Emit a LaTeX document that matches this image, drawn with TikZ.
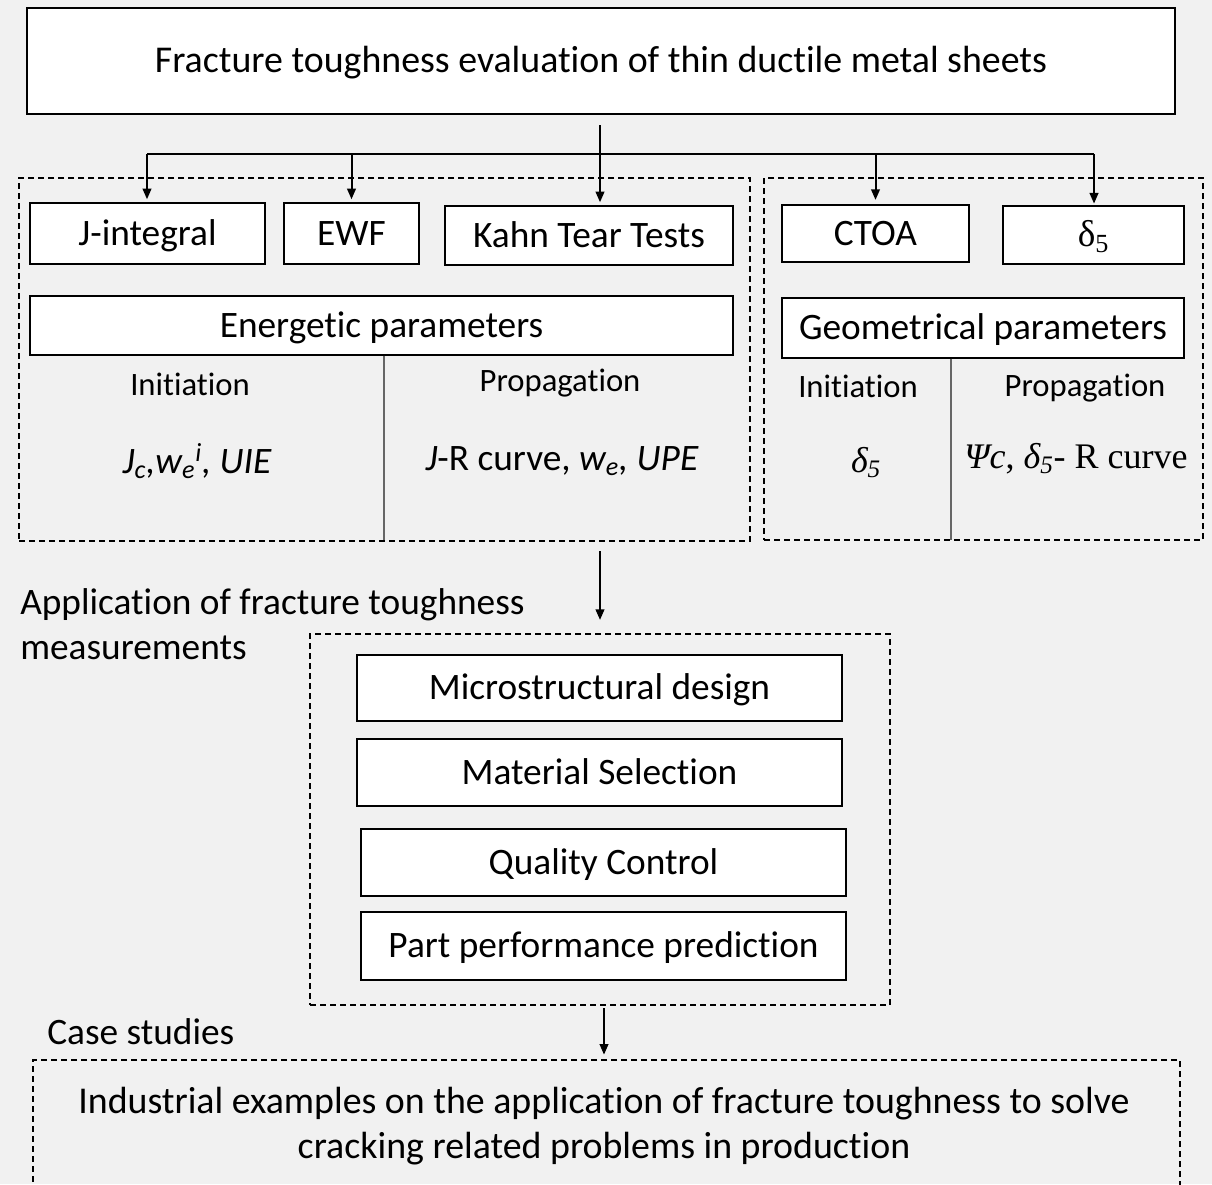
\documentclass[tikz,border=0pt]{standalone}
\usepackage{fontspec}
\setmainfont{Carlito}[Ligatures=NoCommon]
\newfontfamily\tms{Liberation Serif}
\usetikzlibrary{arrows.meta}
\definecolor{bgcol}{HTML}{F1F1F1}
\newcommand\pbox[7][]{\node[#1,minimum width={(#5-#3)*0.75pt},minimum height={(#6-#4)*0.75pt}] (#2) at ({(#3+#5)/2},{(#4+#6)/2}) {#7};}
\begin{document}
\begin{tikzpicture}[x=0.75pt,y=-0.75pt,
  box/.style={draw=black,fill=white,line width=1.6pt,inner sep=0pt,text height=18.6pt,text depth=1pt,font=\fontsize{28}{34}\selectfont},
  dbox/.style={draw=black,dashed,dash pattern=on 4.5pt off 3pt,line width=1.1pt,inner sep=0pt},
  conn/.style={line width=1.5pt,draw=black},
  tip/.style={-{Triangle[length=8pt,width=6.5pt]}},
  lbl/.style={inner sep=0pt,font=\fontsize{28}{34}\selectfont},
  sublbl/.style={inner sep=0pt,font=\fontsize{24.5}{30}\selectfont},
  divider/.style={draw=gray!80!black,line width=0.8pt}]
\fill[bgcol] (0,0) rectangle (1212,1184);
\useasboundingbox (0,0) rectangle (1212,1184);

% title
\pbox[box,line width=1.9pt,font=\fontsize{28.4}{34}\selectfont]{title}{27}{8}{1175}{114}{Fracture toughness evaluation of thin ductile metal sheets}

% dashed groups
\pbox[dbox]{ldash}{19}{178}{750}{541}{}
\pbox[dbox]{rdash}{764}{178}{1203}{540}{}

% method boxes
\pbox[box]{jint}{30}{203}{265}{264}{J-integral}
\pbox[box]{ewf}{284}{203}{419}{264}{EWF}
\pbox[box]{kahn}{445}{206}{733}{265}{Kahn Tear Tests}
\pbox[box]{ctoa}{782}{205}{969}{262}{CTOA}
\pbox[box]{dfive}{1003}{206}{1184}{264}{\tms δ\textsubscript{5}}

% parameter boxes
\pbox[box,line width=1.1pt]{energ}{30}{296}{733}{355}{Energetic parameters}
\pbox[box,line width=1.1pt]{geom}{782}{298}{1184}{358}{Geometrical parameters}

% dividers
\coordinate (ldivb) at (384,540);
\coordinate (rdivb) at (951,540);
\draw[divider] (energ.south -| ldivb) -- (ldivb);
\draw[divider] (geom.south -| rdivb) -- (rdivb);

% sub labels
\node[sublbl] (linit) at (190,384) {Initiation};
\node[sublbl] (lprop) at (560,383) {Propagation};
\node[sublbl] (rinit) at (858,386) {Initiation};
\node[sublbl] (rprop) at (1085,388) {Propagation};
\node[sublbl,font=\fontsize{28}{30}\selectfont\itshape] (lival) at (197,461) {J\textsubscript{c},w\textsubscript{e}\textsuperscript{i}, UIE};
\node[sublbl,font=\fontsize{28}{30}\selectfont] (lpval) at (562,461) {\textit{J}-R curve, \textit{w\textsubscript{e}, UPE}};
\node[sublbl,font=\fontsize{27}{30}\selectfont\tms] (rival) at (866,463) {\textit{δ\textsubscript{5}}};
\node[sublbl,font=\fontsize{27}{30}\selectfont\tms] (rpval) at (1076,459) {\textit{Ψc}, \textit{δ\textsubscript{5}}- R curve};

% top connectors
\coordinate (bar) at (600,154);
\coordinate (barL) at (147,154);
\coordinate (barR) at (1094,154);
\draw[conn] (barL) -- (barR);
\draw[conn,tip,shorten <=7.5pt,shorten >=2pt] (title.south -| bar) -- (kahn.north -| bar);
\draw[conn,tip,shorten >=2pt] (barL) -- (jint.north -| barL);
\draw[conn,tip,shorten >=2pt] (bar -| ewf.north) -- (ewf.north);
\draw[conn,tip,shorten >=3pt] (bar -| ctoa.north) -- (ctoa.north);
\draw[conn,tip,shorten >=1pt] (barR) -- (dfive.north -| barR);

% application section
\node[lbl,anchor=base west] (app1) at (20,614) {Application of fracture toughness};
\node[lbl,anchor=base west] (app2) at (20,659) {measurements};
\pbox[dbox]{mid}{310}{634}{890}{1005}{}
\pbox[box,line width=1.3pt]{micro}{357}{655}{842}{721}{Microstructural design}
\pbox[box,line width=1.3pt]{matsel}{357}{739}{842}{806}{Material Selection}
\pbox[box,line width=1.3pt]{qual}{361}{829}{846}{896}{Quality Control}
\pbox[box,line width=1.3pt]{part}{361}{912}{846}{980}{Part performance prediction}
\draw[conn,tip,shorten <=7pt,shorten >=10pt] (ldash.south -| mid.north) -- (mid.north);

% case studies
\node[lbl,anchor=base west] (case) at (47,1044) {Case studies};
\pbox[dbox]{bot}{33}{1060}{1180}{1200}{}
\coordinate (barrow) at (604,1060);
\draw[conn,tip,shorten <=2pt,shorten >=4pt] (mid.south -| barrow) -- (barrow);
\node[lbl,align=center,font=\fontsize{28.4}{34}\selectfont] (ind) at (604,1126) {Industrial examples on the application of fracture toughness to solve\\cracking related problems in production};
\end{tikzpicture}
\end{document}
